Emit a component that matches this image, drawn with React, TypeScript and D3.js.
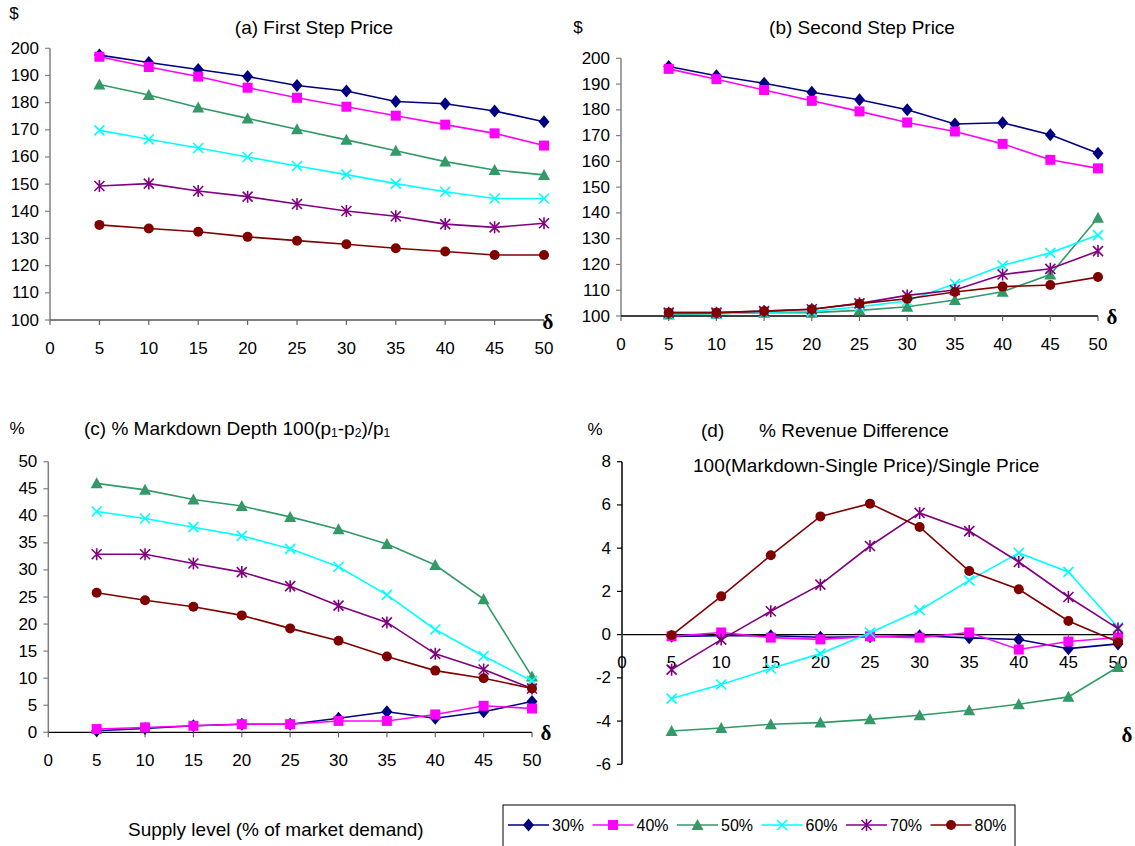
import React from 'react';
import * as d3 from 'd3';

const deltas = [5, 10, 15, 20, 25, 30, 35, 40, 45, 50];
const xTickValues = [0, 5, 10, 15, 20, 25, 30, 35, 40, 45, 50];
const seriesLabels = ['30%', '40%', '50%', '60%', '70%', '80%'];
const seriesColors = ['#000080', '#FF00FF', '#339966', '#00FFFF', '#800080', '#800000'];
const seriesMarkers = ['diamond', 'square', 'triangle', 'x', 'star', 'circle'];

// (a) First Step Price
const firstStepPrice = [
  [197.5, 194.8, 192.2, 189.6, 186.3, 184.3, 180.4, 179.6, 176.9, 173.0],
  [196.9, 193.1, 189.6, 185.5, 181.8, 178.5, 175.2, 171.9, 168.7, 164.2],
  [186.7, 182.8, 178.2, 174.2, 170.2, 166.3, 162.3, 158.3, 155.2, 153.4],
  [169.8, 166.5, 163.3, 160.0, 156.7, 153.5, 150.2, 147.2, 144.7, 144.7],
  [149.3, 150.2, 147.5, 145.4, 142.7, 140.1, 138.2, 135.3, 134.1, 135.6],
  [135.0, 133.7, 132.5, 130.6, 129.2, 127.9, 126.4, 125.2, 123.9, 123.9],
];

// (b) Second Step Price
const secondStepPrice = [
  [196.8, 193.2, 190.3, 186.8, 183.9, 180.0, 174.5, 175.0, 170.3, 163.2],
  [195.9, 191.9, 187.7, 183.5, 179.4, 175.1, 171.6, 166.8, 160.6, 157.3],
  [100.6, 100.9, 101.3, 101.3, 102.2, 103.6, 106.2, 109.4, 116.1, 138.1],
  [100.9, 100.9, 101.5, 101.8, 103.6, 105.8, 112.5, 119.6, 124.5, 131.4],
  [101.3, 101.3, 101.9, 102.6, 104.9, 108.0, 110.1, 116.1, 118.3, 125.2],
  [101.3, 101.3, 101.9, 102.6, 104.8, 106.7, 109.3, 111.4, 112.0, 115.1],
];

// (c) % Markdown Depth
const markdownDepth = [
  [0.3, 0.7, 1.2, 1.5, 1.5, 2.6, 3.8, 2.6, 3.8, 5.7],
  [0.6, 0.9, 1.2, 1.5, 1.5, 2.1, 2.1, 3.3, 4.9, 4.4],
  [46.0, 44.8, 43.0, 41.8, 39.8, 37.5, 34.8, 30.9, 24.6, 10.3],
  [40.8, 39.5, 37.9, 36.3, 33.9, 30.6, 25.4, 19.0, 14.1, 9.5],
  [32.9, 32.9, 31.2, 29.6, 27.0, 23.4, 20.3, 14.5, 11.6, 8.1],
  [25.8, 24.4, 23.2, 21.6, 19.2, 16.9, 14.0, 11.4, 10.0, 8.1],
];

// (d) % Revenue Difference
const revenueDifference = [
  [-0.08, -0.05, -0.05, -0.12, -0.1, -0.05, -0.15, -0.23, -0.65, -0.43],
  [-0.08, 0.1, -0.14, -0.22, -0.08, -0.14, 0.1, -0.69, -0.32, -0.13],
  [-4.46, -4.32, -4.15, -4.07, -3.92, -3.73, -3.50, -3.22, -2.88, -1.50],
  [-2.96, -2.31, -1.57, -0.88, 0.09, 1.13, 2.51, 3.78, 2.90, 0.34],
  [-1.62, -0.23, 1.08, 2.31, 4.10, 5.63, 4.79, 3.36, 1.74, 0.28],
  [-0.03, 1.77, 3.67, 5.47, 6.06, 4.98, 2.94, 2.10, 0.63, -0.34],
];

const priceTicks = [100, 110, 120, 130, 140, 150, 160, 170, 180, 190, 200];
const depthTicks = [0, 5, 10, 15, 20, 25, 30, 35, 40, 45, 50];
const revenueTicks = [-6, -4, -2, 0, 2, 4, 6, 8];

const FONT = '"Liberation Sans", Arial, Helvetica, sans-serif';
const SERIF = '"Liberation Serif", "Times New Roman", serif';

function Marker({ type, x, y, color }: { type: string; x: number; y: number; color: string }) {
  if (type === 'diamond') {
    return <path d={`M${x},${y - 6.5}L${x + 5.5},${y}L${x},${y + 6.5}L${x - 5.5},${y}Z`} fill={color} />;
  }
  if (type === 'square') {
    return <rect x={x - 5} y={y - 5} width={10} height={10} fill={color} />;
  }
  if (type === 'triangle') {
    return <path d={`M${x},${y - 6}L${x + 6},${y + 5}L${x - 6},${y + 5}Z`} fill={color} />;
  }
  if (type === 'x') {
    const s = 5;
    return (
      <path d={`M${x - s},${y - s}L${x + s},${y + s}M${x - s},${y + s}L${x + s},${y - s}`} stroke={color} strokeWidth={1.6} fill="none" />
    );
  }
  if (type === 'star') {
    const s = 5;
    return (
      <path
        d={`M${x - s},${y - s}L${x + s},${y + s}M${x - s},${y + s}L${x + s},${y - s}M${x},${y - 6}L${x},${y + 6}`}
        stroke={color}
        strokeWidth={1.6}
        fill="none"
      />
    );
  }
  return <circle cx={x} cy={y} r={5} fill={color} />;
}

type PanelProps = {
  data: number[][];
  xRange: [number, number];
  yDomain: [number, number];
  yRange: [number, number];
  yTicks: number[];
  xAxisAt: number;
  yAxisColor: string;
  xAxisColor: string;
  delta: [number, number];
};

function Panel({ data, xRange, yDomain, yRange, yTicks, xAxisAt, yAxisColor, xAxisColor, delta }: PanelProps) {
  const x = d3.scaleLinear().domain([0, 50]).range(xRange);
  const y = d3.scaleLinear().domain(yDomain).range(yRange);
  const y0 = y(xAxisAt);
  const line = d3
    .line<number>()
    .x((_, i) => x(deltas[i]))
    .y((d) => y(d));
  return (
    <g>
      {/* y axis */}
      <line x1={x(0)} x2={x(0)} y1={y(yDomain[0])} y2={y(yDomain[1])} stroke={yAxisColor} strokeWidth={1.5} />
      {yTicks.map((t) => (
        <g key={'yt' + t}>
          <line x1={x(0) - 5} x2={x(0)} y1={y(t)} y2={y(t)} stroke={yAxisColor} strokeWidth={1.2} />
          <text x={x(0) - 11} y={y(t)} textAnchor="end" dominantBaseline="central" fontSize={17} fontFamily={FONT} fill="#000">
            {t}
          </text>
        </g>
      ))}
      {/* x axis */}
      <line x1={x(0)} x2={x(50)} y1={y0} y2={y0} stroke={xAxisColor} strokeWidth={1.3} />
      {xTickValues.map((t) => (
        <g key={'xt' + t}>
          <line x1={x(t)} x2={x(t)} y1={y0} y2={y0 + 5} stroke="#666" strokeWidth={1.2} />
          <text x={x(t)} y={y0 + 28} textAnchor="middle" dominantBaseline="central" fontSize={17} fontFamily={FONT} fill="#000">
            {t}
          </text>
        </g>
      ))}
      <text x={delta[0]} y={delta[1]} textAnchor="middle" dominantBaseline="central" fontSize={21} fontWeight="bold" fontFamily={SERIF}>
        δ
      </text>
      {data.map((s, si) => (
        <g key={'s' + si}>
          <path d={line(s) || ''} fill="none" stroke={seriesColors[si]} strokeWidth={1.6} />
          {s.map((v, i) => (
            <Marker key={i} type={seriesMarkers[si]} x={x(deltas[i])} y={y(v)} color={seriesColors[si]} />
          ))}
        </g>
      ))}
    </g>
  );
}

export default function App() {
  const legendX = 508;
  const legendStep = 84.5;
  return (
    <svg
      width={1135}
      height={846}
      viewBox="0 0 1135 846"
      style={{ position: 'absolute', left: 0, top: 0, display: 'block', background: '#fff' }}
    >
      <rect x={0} y={0} width={1135} height={846} fill="#fff" />

      {/* (a) */}
      <text x={14} y={13} textAnchor="middle" dominantBaseline="central" fontSize={17} fontFamily={FONT}>$</text>
      <text x={314} y={27} textAnchor="middle" dominantBaseline="central" fontSize={19} fontFamily={FONT}>(a) First Step Price</text>
      <Panel
        data={firstStepPrice}
        xRange={[50, 544]}
        yDomain={[100, 200]}
        yRange={[320, 48.3]}
        yTicks={priceTicks}
        xAxisAt={100}
        yAxisColor="#808080"
        xAxisColor="#555"
        delta={[548, 322]}
      />

      {/* (b) */}
      <text x={578} y={27} textAnchor="middle" dominantBaseline="central" fontSize={17} fontFamily={FONT}>$</text>
      <text x={862} y={27} textAnchor="middle" dominantBaseline="central" fontSize={19} fontFamily={FONT}>(b) Second Step Price</text>
      <Panel
        data={secondStepPrice}
        xRange={[621, 1098]}
        yDomain={[100, 200]}
        yRange={[316, 58.3]}
        yTicks={priceTicks}
        xAxisAt={100}
        yAxisColor="#808080"
        xAxisColor="#000"
        delta={[1112, 317]}
      />

      {/* (c) */}
      <text x={17} y={428} textAnchor="middle" dominantBaseline="central" fontSize={17} fontFamily={FONT}>%</text>
      <text x={84} y={428} dominantBaseline="central" fontSize={19} fontFamily={FONT}>
        (c) % Markdown Depth 100(p
        <tspan dy={5} fontSize={12}>1</tspan>
        <tspan dy={-5}>-p</tspan>
        <tspan dy={5} fontSize={12}>2</tspan>
        <tspan dy={-5}>)/p</tspan>
        <tspan dy={5} fontSize={12}>1</tspan>
      </text>
      <Panel
        data={markdownDepth}
        xRange={[48.3, 532]}
        yDomain={[0, 50]}
        yRange={[732.3, 461.7]}
        yTicks={depthTicks}
        xAxisAt={0}
        yAxisColor="#808080"
        xAxisColor="#000"
        delta={[546, 733]}
      />

      {/* (d) */}
      <text x={595} y={429} textAnchor="middle" dominantBaseline="central" fontSize={17} fontFamily={FONT}>%</text>
      <text x={701} y={430} dominantBaseline="central" fontSize={19} fontFamily={FONT}>(d)</text>
      <text x={759} y={430} dominantBaseline="central" fontSize={19} fontFamily={FONT}>% Revenue Difference</text>
      <text x={693} y={465} dominantBaseline="central" fontSize={19} fontFamily={FONT}>100(Markdown-Single Price)/Single Price</text>
      <Panel
        data={revenueDifference}
        xRange={[622, 1118]}
        yDomain={[-6, 8]}
        yRange={[764.3, 461.7]}
        yTicks={revenueTicks}
        xAxisAt={0}
        yAxisColor="#000"
        xAxisColor="#000"
        delta={[1127, 735]}
      />

      {/* footer */}
      <text x={128} y={829} dominantBaseline="central" fontSize={19} fontFamily={FONT}>Supply level (% of market demand)</text>
      <rect x={503} y={805} width={512} height={60} fill="none" stroke="#000" strokeWidth={1} />
      {seriesLabels.map((lab, i) => {
        const lx = legendX + i * legendStep;
        return (
          <g key={lab}>
            <line x1={lx} x2={lx + 41} y1={825} y2={825} stroke={seriesColors[i]} strokeWidth={1.6} />
            <Marker type={seriesMarkers[i]} x={lx + 20.5} y={825} color={seriesColors[i]} />
            <text x={lx + 44} y={825} dominantBaseline="central" fontSize={16} fontFamily={FONT}>{lab}</text>
          </g>
        );
      })}
    </svg>
  );
}
